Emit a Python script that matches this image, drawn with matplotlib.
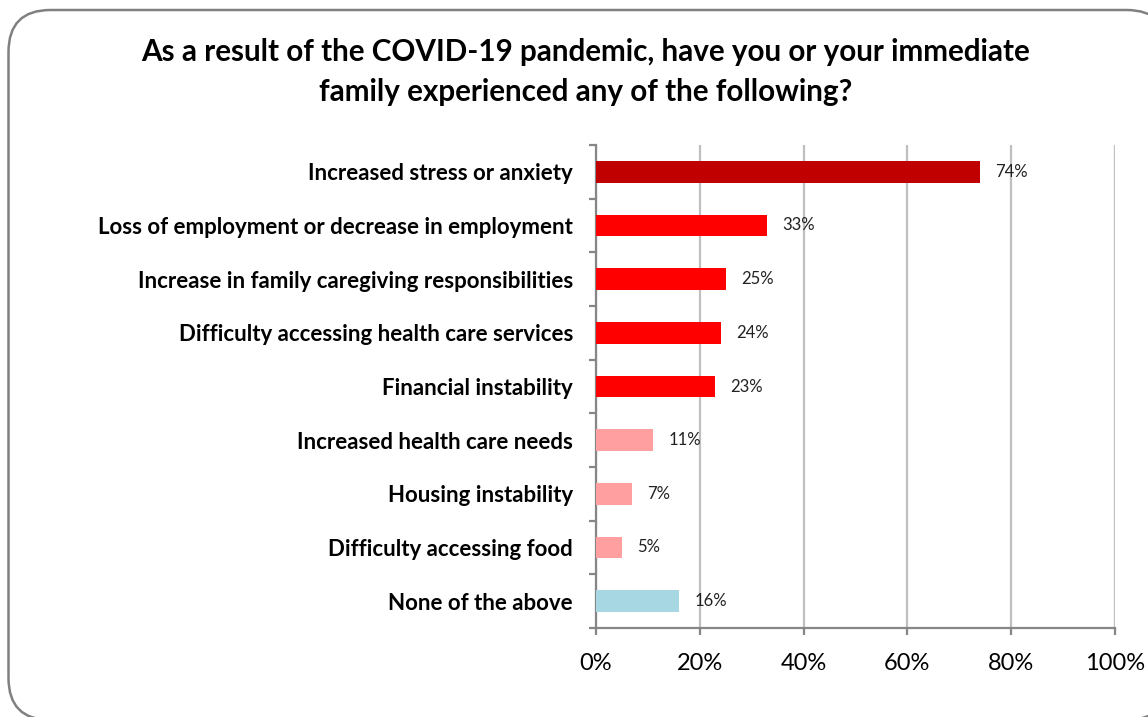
import matplotlib.pyplot as plt
from matplotlib.patches import FancyBboxPatch
from matplotlib.ticker import FixedLocator

categories = [
    "Increased stress or anxiety",
    "Loss of employment or decrease in employment",
    "Increase in family caregiving responsibilities",
    "Difficulty accessing health care services",
    "Financial instability",
    "Increased health care needs",
    "Housing instability",
    "Difficulty accessing food",
    "None of the above",
]
values = [74, 33, 25, 24, 23, 11, 7, 5, 16]
bar_colors = ["#C00000", "#FF0000", "#FF0000", "#FF0000", "#FF0000",
              "#FF9F9F", "#FF9F9F", "#FF9F9F", "#A6D7E2"]
x_ticks = [0, 20, 40, 60, 80, 100]
x_tick_labels = ["0%", "20%", "40%", "60%", "80%", "100%"]
title = "As a result of the COVID-19 pandemic, have you or your immediate\nfamily experienced any of the following?"

plt.rcParams['font.family'] = ['Lato', 'DejaVu Sans']

W, H = 1148, 717
fig = plt.figure(figsize=(W / 100, H / 100), dpi=100)

# background layer in pixel coordinates holding the rounded frame
bg = fig.add_axes([0, 0, 1, 1], zorder=0)
bg.set_xlim(0, W)
bg.set_ylim(H, 0)
bg.axis("off")
frame = FancyBboxPatch((8.5, 10), 1160, 710,
                       boxstyle="round,pad=0,rounding_size=42",
                       facecolor="white", edgecolor="#808080", linewidth=1.8)
bg.add_patch(frame)

ax = fig.add_axes([596 / W, 1 - 628 / H, (1115 - 596) / W, (628 - 145) / H], zorder=1)
ax.set_facecolor("none")

n = len(categories)
ypos = list(range(n))
ax.barh(ypos, values, height=0.4, color=bar_colors, zorder=3)

for y, v in zip(ypos, values):
    ax.annotate(f"{v}%", xy=(v, y), xytext=(11, 0), textcoords="offset points",
                ha="left", va="center", fontsize=12, color="#222222", zorder=4)

ax.set_xlim(0, 100)
ax.set_ylim(n - 0.5, -0.5)
ax.set_xticks(x_ticks)
ax.set_xticklabels(x_tick_labels, fontsize=17)
ax.xaxis.grid(True, color="#BFBFBF", linewidth=1.6, zorder=0)

ax.set_yticks(ypos)
ax.set_yticklabels(categories, fontsize=16, fontweight="bold")
ax.tick_params(axis="y", length=0, pad=16.5)
ax.yaxis.set_minor_locator(FixedLocator([i - 0.5 for i in range(n + 1)]))
ax.tick_params(axis="y", which="minor", length=5, width=1.6, color="#868686", direction="out")
ax.tick_params(axis="x", length=5, width=1.6, color="#868686", pad=13, direction="out")

for s in ["top", "right"]:
    ax.spines[s].set_visible(False)
for s in ["left", "bottom"]:
    ax.spines[s].set_color("#868686")
    ax.spines[s].set_linewidth(1.6)

fig.text(586 / W, 1 - 72 / H, title, ha="center", va="center",
         fontsize=21.3, fontweight="bold", linespacing=1.5)

fig.savefig("out.png", dpi=100)
